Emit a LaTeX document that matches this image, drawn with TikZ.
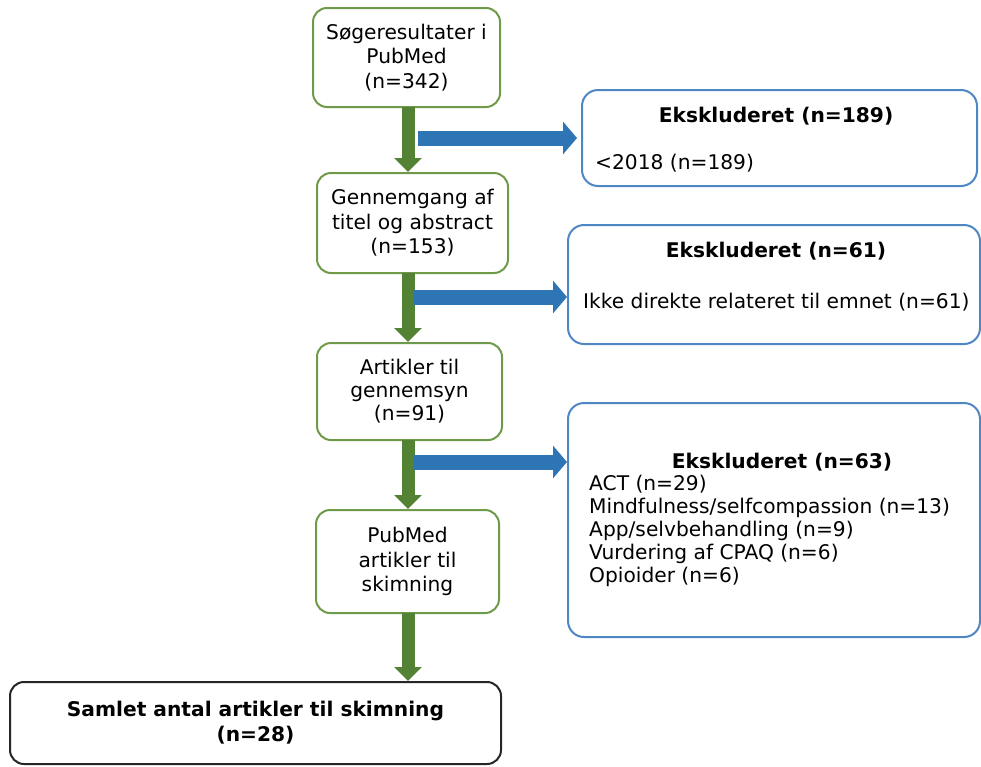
\documentclass[tikz,border=0pt]{standalone}
\usepackage{fontspec}
\setmainfont{DejaVu Sans}
\usetikzlibrary{arrows.meta}
\definecolor{gline}{HTML}{6E9A4A}
\definecolor{garrow}{HTML}{548235}
\definecolor{bline}{HTML}{4F87C5}
\definecolor{barrow}{HTML}{2E75B6}
\tikzset{
 gbox/.style={draw=gline, line width=2pt, rounded corners=14pt, fill=white, align=center, inner sep=0pt, font=\fontsize{20.2}{24.5}\selectfont},
 kbox/.style={draw=black!85, line width=2pt, rounded corners=14pt, fill=white, align=center, inner sep=0pt, font=\bfseries\fontsize{20.2}{25}\selectfont},
 bbox/.style={draw=bline, line width=2pt, rounded corners=16pt, fill=white},
 txt/.style={inner sep=0pt, align=left, font=\fontsize{20.2}{23}\selectfont},
 ttl/.style={inner sep=0pt, font=\bfseries\fontsize{20.2}{23}\selectfont},
 garr/.style={draw=garrow, line width=13pt, -{Triangle[length=14pt,width=27pt]}},
 barr/.style={draw=barrow, line width=15pt, -{Triangle[length=14pt,width=32pt]}},
}
\begin{document}
\begin{tikzpicture}[x=1pt,y=-1pt]
\useasboundingbox (0,0) rectangle (981,766);
% green boxes
\node[gbox, minimum width=187pt, minimum height=99pt] (s1) at (406.5,57.5) {Søgeresultater i\\PubMed\\(n=342)};
\node[gbox, minimum width=191pt, minimum height=100pt] (s2) at (412.5,223) {Gennemgang af\\titel og abstract\\(n=153)};
\node[gbox, minimum width=185pt, minimum height=97pt, font=\fontsize{20.2}{23}\selectfont] (s3) at (409.5,391.5) {Artikler til\\gennemsyn\\(n=91)};
\node[gbox, minimum width=183pt, minimum height=103pt] (s4) at (407.5,561.5) {PubMed\\artikler til\\skimning};
\node[kbox, minimum width=491pt, minimum height=82pt] (s5) at (255.5,723) {Samlet antal artikler til skimning\\(n=28)};
% blue boxes
\node[bbox, minimum width=395pt, minimum height=96pt] (e1) at (779.5,138) {};
\node[bbox, minimum width=412pt, minimum height=119pt] (e2) at (774,284.5) {};
\node[bbox, minimum width=412pt, minimum height=234pt] (e3) at (774,520) {};
\node[ttl] (e1t) at (776,116) {Ekskluderet (n=189)};
\node[txt, anchor=west] (e1b) at (595,163) {<2018 (n=189)};
\node[ttl] (e2t) at (776,251) {Ekskluderet (n=61)};
\node[txt, anchor=west] (e2b) at (583,302) {Ikke direkte relateret til emnet (n=61)};
\node[ttl] (e3t) at (782,462) {Ekskluderet (n=63)};
\node[txt, anchor=west] (e3b) at (589,531) {ACT (n=29)\\Mindfulness/selfcompassion (n=13)\\App/selvbehandling (n=9)\\Vurdering af CPAQ (n=6)\\Opioider (n=6)};
% green arrows
\coordinate (g1) at (408,107);
\coordinate (g2) at (408,273);
\coordinate (g3) at (408,440);
\coordinate (g4) at (408,613);
\draw[garr] (g1) -- (g1 |- s2.north);
\draw[garr] (g2) -- (g2 |- s3.north);
\draw[garr] (g3) -- (g3 |- s4.north);
\draw[garr] (g4) -- (g4 |- s5.north);
% blue arrows
\coordinate (b1) at (418,138);
\coordinate (b2) at (414,297);
\coordinate (b3) at (414,462);
\draw[barr] (b1) -- (577,138);
\draw[barr] (b2) -- (b2 -| e2.west);
\draw[barr] (b3) -- (b3 -| e3.west);
\end{tikzpicture}
\end{document}
